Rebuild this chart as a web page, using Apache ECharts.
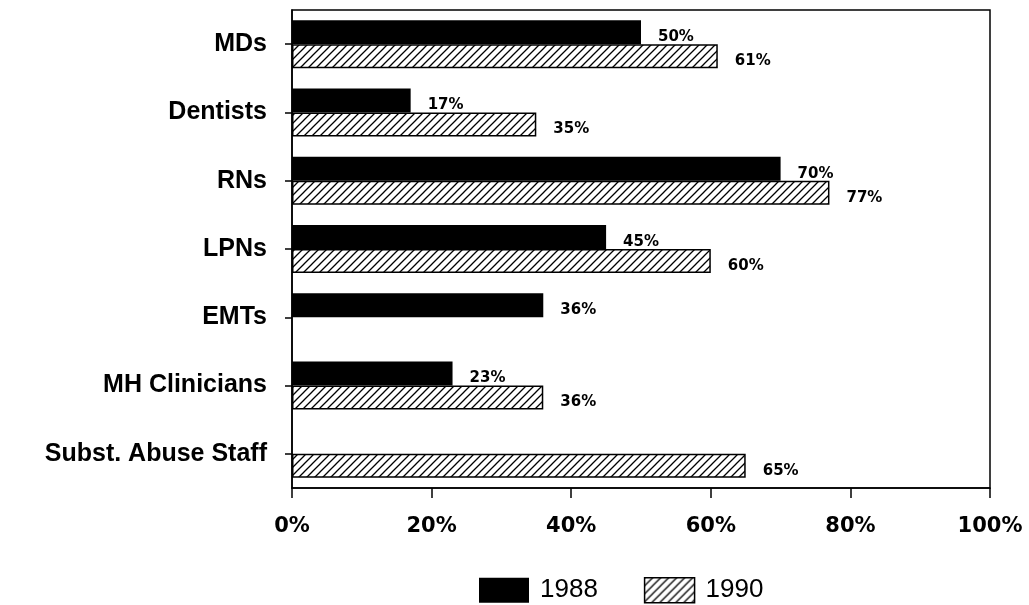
<!DOCTYPE html>
<html>
<head>
<meta charset="utf-8">
<script src="https://cdn.jsdelivr.net/npm/echarts@6/dist/echarts.min.js"></script>
<style>
  html, body { margin: 0; padding: 0; background: #fff; }
  #chart { width: 1029px; height: 605px; }
</style>
</head>
<body>
<div id="chart"></div>
<script>
const categories = ['MDs', 'Dentists', 'RNs', 'LPNs', 'EMTs', 'MH Clinicians', 'Subst. Abuse Staff'];
const values1988 = [50, 17, 70, 45, 36, 23, null];
const values1990 = [61, 35, 77, 60, null, 36, 65];
const xTicks = [0, 20, 40, 60, 80, 100];

// diagonal hatch for the 1990 bars
function makeHatch() {
    const c = document.createElement('canvas');
    const s = 8;
    c.width = s; c.height = s;
    const ctx = c.getContext('2d');
    ctx.fillStyle = '#fff';
    ctx.fillRect(0, 0, s, s);
    ctx.strokeStyle = '#000';
    ctx.lineWidth = 1.3;
    ctx.beginPath();
    ctx.moveTo(0, s); ctx.lineTo(s, 0);
    ctx.moveTo(-1, 1); ctx.lineTo(1, -1);
    ctx.moveTo(s - 1, s + 1); ctx.lineTo(s + 1, s - 1);
    ctx.stroke();
    return c;
}
const hatch = { image: makeHatch(), repeat: 'repeat' };

const labelStyle = {
    show: true,
    position: 'right',
    distance: 17,
    offset: [0, 5],
    fontFamily: 'DejaVu Sans',
    fontWeight: 'bold',
    fontSize: 15,
    color: '#000',
    formatter: p => p.value + '%'
};

const chart = echarts.init(document.getElementById('chart'));
const option = {
    animation: false,
    backgroundColor: '#fff',
    grid: {
        left: 292,
        right: 39,
        top: 10,
        bottom: 117,
        show: true,
        borderColor: '#000',
        borderWidth: 1.5
    },
    legend: {
        top: 572,
        left: 474,
        itemWidth: 50,
        itemHeight: 25,
        itemGap: 46,
        textStyle: {
            fontFamily: 'Liberation Sans',
            fontSize: 26,
            color: '#000',
            padding: [0, 0, 0, 6]
        },
        data: [
            { name: '1988', icon: 'rect' },
            { name: '1990', icon: 'rect', itemStyle: { color: hatch, borderColor: '#000', borderWidth: 1.5 } }
        ]
    },
    xAxis: {
        type: 'value',
        min: 0,
        max: 100,
        interval: 20,
        axisLine: { show: true, lineStyle: { color: '#000', width: 1.5 } },
        axisTick: { show: true, length: 10, lineStyle: { color: '#000', width: 1.5 } },
        splitLine: { show: false },
        axisLabel: {
            margin: 28,
            fontFamily: 'DejaVu Sans',
            fontWeight: 'bold',
            fontSize: 21,
            color: '#000',
            formatter: v => xTicks.includes(v) ? v + '%' : ''
        }
    },
    yAxis: {
        type: 'category',
        inverse: true,
        data: categories,
        axisLine: { show: true, lineStyle: { color: '#000', width: 1.5 } },
        axisTick: { show: true, alignWithLabel: true, length: 7, lineStyle: { color: '#000', width: 1.5 } },
        axisLabel: {
            margin: 25,
            fontFamily: 'Liberation Sans',
            fontWeight: 'bold',
            fontSize: 25,
            color: '#000'
        }
    },
    series: [
        {
            name: '1988',
            type: 'bar',
            data: values1988,
            barWidth: 24,
            barGap: '0%',
            itemStyle: { color: '#000' },
            label: labelStyle
        },
        {
            name: '1990',
            type: 'bar',
            data: values1990,
            barWidth: 24,
            barGap: '0%',
            itemStyle: { color: hatch, borderColor: '#000', borderWidth: 1.5 },
            label: labelStyle
        }
    ]
};
chart.setOption(option);
</script>
</body>
</html>
